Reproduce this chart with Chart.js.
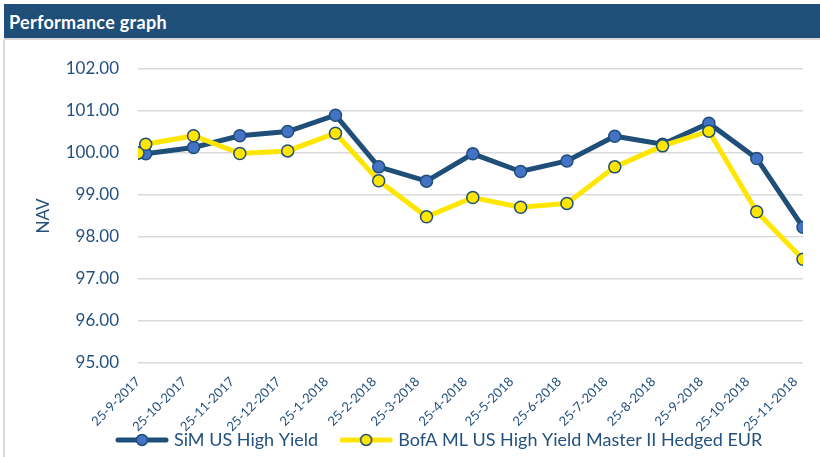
<!DOCTYPE html>
<html>
<head>
<meta charset="utf-8">
<script src="https://cdn.jsdelivr.net/npm/chart.js@4"></script>
<style>
  html, body { margin: 0; padding: 0; background: #fff; }
  #wrap { position: relative; width: 820px; height: 457px; overflow: hidden; }
  #bar {
    position: absolute; left: 4px; top: 4px; width: 816px; height: 36px;
    background: #1F4E79; color: #fff; font: bold 18px Lato, sans-serif;
    letter-spacing: 0.3px; line-height: 36px; padding-left: 5px; box-sizing: border-box;
    border-bottom: 2px solid #d9d9d9; z-index: 2;
  }
  #frame { position: absolute; left: 3px; top: 40px; bottom: 0; border-left: 2px solid #d9d9d9; }
  canvas { position: absolute; left: 0; top: 0; }
</style>
</head>
<body>
<div id="wrap">
  <div id="bar">Performance graph</div>
  <div id="frame"></div>
  <canvas id="chart" width="820" height="485"></canvas>
</div>
<script>
// x axis labels (one every month on the 25th)
const tickLabels = ['25-9-2017', '25-10-2017', '25-11-2017', '25-12-2017', '25-1-2018',
  '25-2-2018', '25-3-2018', '25-4-2018', '25-5-2018', '25-6-2018', '25-7-2018',
  '25-8-2018', '25-9-2018', '25-10-2018', '25-11-2018'];

// NAV dates: start date, then month ends
const navDates = ['25-9-2017', '30-9-2017', '31-10-2017', '30-11-2017', '31-12-2017',
  '31-1-2018', '28-2-2018', '31-3-2018', '30-4-2018', '31-5-2018', '30-6-2018',
  '31-7-2018', '31-8-2018', '30-9-2018', '31-10-2018', '30-11-2018'];

const simNav = [100.00, 99.98, 100.13, 100.41, 100.51, 100.90, 99.67, 99.33,
  99.98, 99.56, 99.81, 100.40, 100.21, 100.71, 99.87, 98.23];

const bofaNav = [100.00, 100.21, 100.41, 99.99, 100.05, 100.47, 99.34, 98.48,
  98.94, 98.71, 98.80, 99.67, 100.17, 100.52, 98.60, 97.47];

const seriesNames = ['SiM US High Yield', 'BofA ML US High Yield Master II Hedged EUR'];

const navy = '#1F4E79';
const textBlue = '#24517E';
const yellow = '#FFE600';

// days since first label
function dayNum(s) {
  const [d, m, y] = s.split('-').map(Number);
  return Date.UTC(y, m - 1, d) / 864e5;
}
const day0 = dayNum(tickLabels[0]);
const toX = s => dayNum(s) - day0;

function legendIcon(lineColor, fill) {
  const c = document.createElement('canvas');
  c.width = 54; c.height = 14;
  const g = c.getContext('2d');
  g.strokeStyle = lineColor; g.lineWidth = 5; g.lineCap = 'round';
  g.beginPath(); g.moveTo(3, 7); g.lineTo(51, 7); g.stroke();
  g.beginPath(); g.arc(27, 7, 5.5, 0, Math.PI * 2);
  g.fillStyle = fill; g.fill();
  g.lineWidth = 1.5; g.strokeStyle = navy; g.stroke();
  return c;
}
const icons = [legendIcon(navy, '#4472C4'), legendIcon(yellow, yellow)];

// move the legend box under the rotated labels, like the original
const legendNudge = {
  id: 'legendNudge',
  afterLayout(chart) {
    const l = chart.legend;
    l.top -= 26; l.bottom -= 26;
    l.left += 94; l.right += 94;
  },
};

const font = 'Lato';

new Chart(document.getElementById('chart'), {
  type: 'line',
  data: {
    datasets: [
      {
        label: seriesNames[0],
        data: navDates.map((d, i) => ({ x: toX(d), y: simNav[i] })),
        borderColor: navy,
        borderWidth: 5,
        pointBackgroundColor: '#4472C4',
        pointBorderColor: navy,
        pointBorderWidth: 1.5,
        pointRadius: 6,
        tension: 0,
        order: 2,
      },
      {
        label: seriesNames[1],
        data: navDates.map((d, i) => ({ x: toX(d), y: bofaNav[i] })),
        borderColor: yellow,
        borderWidth: 5,
        pointBackgroundColor: yellow,
        pointBorderColor: navy,
        pointBorderWidth: 1.5,
        pointRadius: 6,
        tension: 0,
        order: 1,
      },
    ],
  },
  plugins: [legendNudge],
  options: {
    responsive: false,
    devicePixelRatio: 1,
    animation: false,
    layout: { padding: { top: 69, right: 17, bottom: 0, left: 0 } },
    plugins: {
      tooltip: { enabled: false },
      legend: {
        position: 'bottom',
        align: 'start',
        labels: {
          usePointStyle: true,
          pointStyleWidth: 46,
          padding: 25,
          color: textBlue,
          font: { family: font, size: 18 },
          sort: (a, b) => a.datasetIndex - b.datasetIndex,
          generateLabels(chart) {
            const items = Chart.defaults.plugins.legend.labels.generateLabels(chart);
            items.forEach(it => { it.pointStyle = icons[it.datasetIndex]; });
            return items;
          },
        },
      },
    },
    scales: {
      x: {
        type: 'linear',
        min: 0,
        max: toX(navDates[navDates.length - 1]),
        grid: { display: false },
        border: { display: false },
        afterBuildTicks(scale) {
          scale.ticks = tickLabels.map(t => ({ value: toX(t) }));
        },
        afterFit(scale) { scale.height = 69; },
        ticks: {
          autoSkip: false,
          minRotation: 45,
          maxRotation: 45,
          padding: 3,
          color: textBlue,
          font: { family: font, size: 13 },
          callback: (v, i) => tickLabels[i],
        },
      },
      y: {
        min: 95,
        max: 102,
        afterFit(scale) { scale.width = 138; },
        grid: { color: '#d9d9d9', lineWidth: 1.5, drawTicks: false },
        border: { display: false },
        ticks: {
          stepSize: 1,
          padding: 19,
          color: textBlue,
          font: { family: font, size: 17 },
          callback: v => v.toFixed(2),
        },
        title: {
          display: true,
          text: 'NAV',
          color: textBlue,
          font: { family: font, size: 17 },
          padding: { top: 33, bottom: 0 },
        },
      },
    },
  },
});
</script>
</body>
</html>
